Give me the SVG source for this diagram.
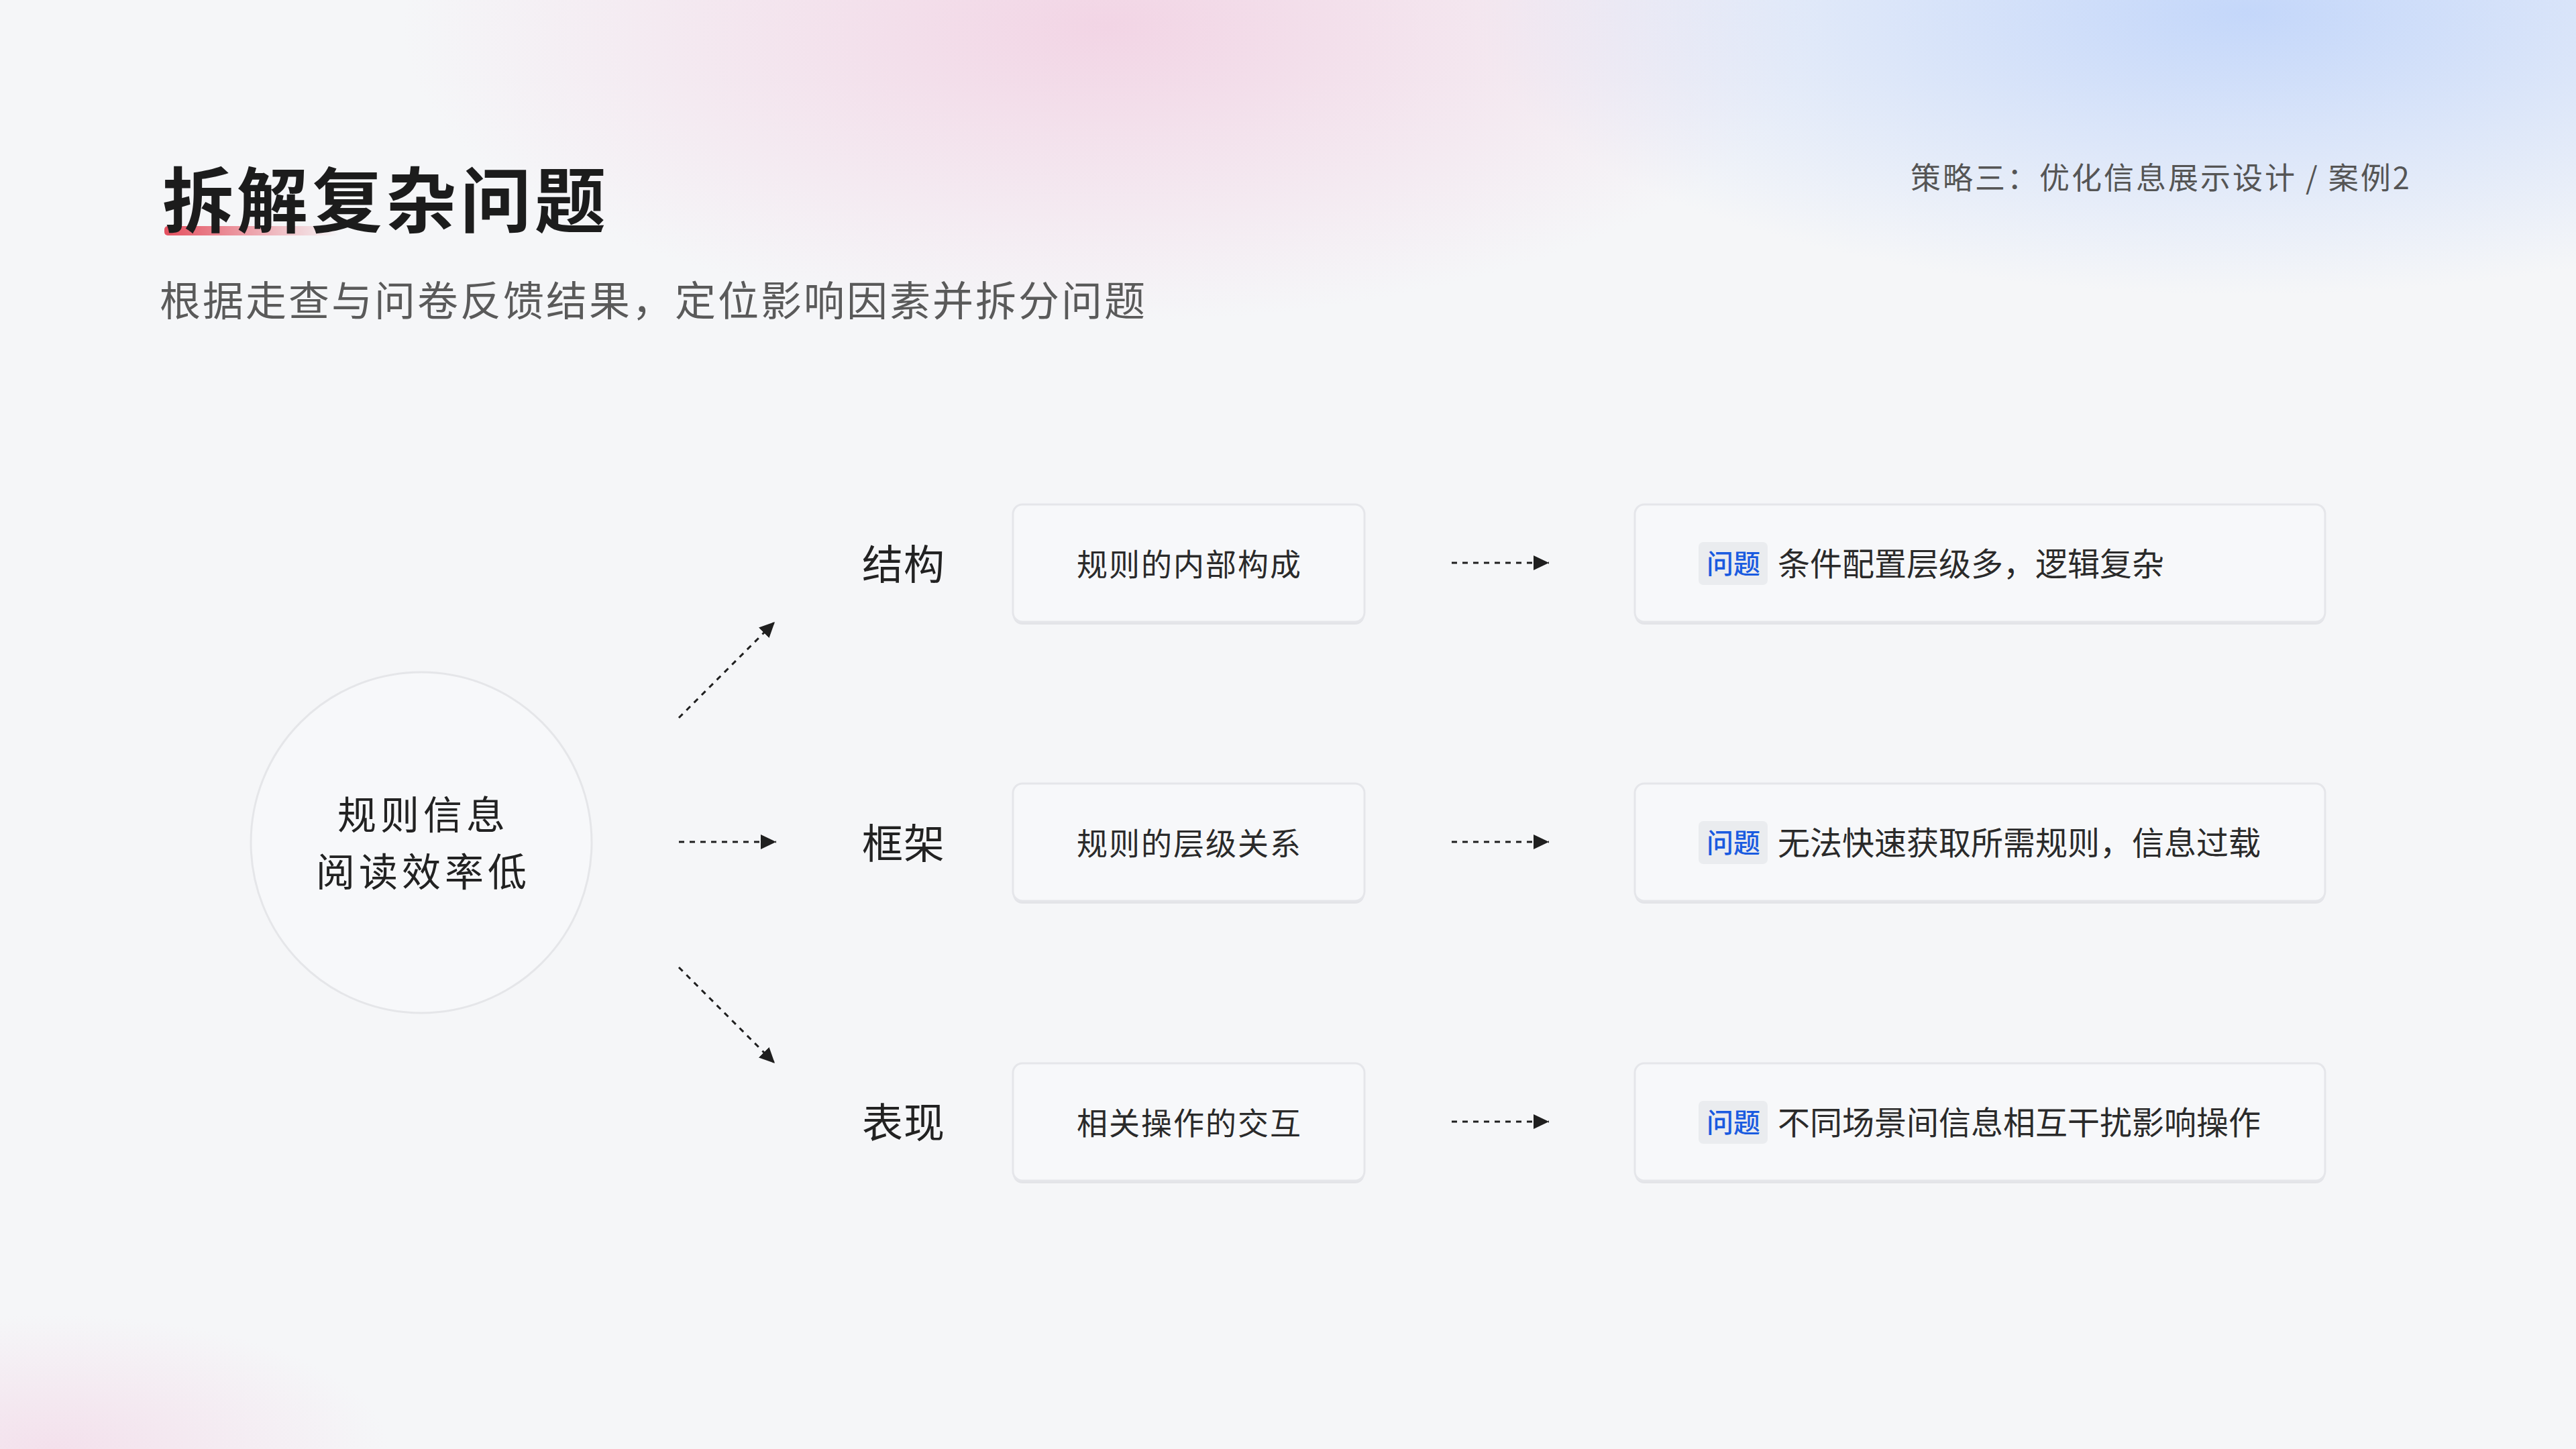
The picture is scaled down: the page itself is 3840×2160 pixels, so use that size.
<svg xmlns="http://www.w3.org/2000/svg" width="3840" height="2160" viewBox="0 0 3840 2160">
  <defs>
    <radialGradient id="gPink" cx="0.5" cy="0.5" r="0.5">
      <stop offset="0" stop-color="#f2d3e4" stop-opacity="0.95"/>
      <stop offset="1" stop-color="#f2d3e4" stop-opacity="0"/>
    </radialGradient>
    <radialGradient id="gBlue" cx="0.5" cy="0.5" r="0.5">
      <stop offset="0" stop-color="#c4d7fa" stop-opacity="1"/>
      <stop offset="1" stop-color="#c4d7fa" stop-opacity="0"/>
    </radialGradient>
    <radialGradient id="gPink2" cx="0.5" cy="0.5" r="0.5">
      <stop offset="0" stop-color="#f3dbe9" stop-opacity="0.8"/>
      <stop offset="1" stop-color="#f3dbe9" stop-opacity="0"/>
    </radialGradient>
    <linearGradient id="gUnder" x1="0" y1="0" x2="1" y2="0">
      <stop offset="0" stop-color="#e4505f"/>
      <stop offset="1" stop-color="#e4505f" stop-opacity="0"/>
    </linearGradient>
    <marker id="arrow" markerUnits="userSpaceOnUse" markerWidth="24" markerHeight="24" refX="23" refY="11" orient="auto">
      <path d="M0,0 L23,11 L0,22 Z" fill="#1f1f1f"/>
    </marker>
  </defs>
  <style>
    text { font-family: "Noto Sans CJK SC", "Noto Sans", sans-serif; }
    .title { font-size: 106px; font-weight: 700; fill: #1c1c1c; letter-spacing: 5px; }
    .sub { font-size: 61px; fill: #5a5a5a; letter-spacing: 3px; }
    .crumb { font-size: 45px; fill: #555555; letter-spacing: 3px; }
    .ctext { font-size: 58px; fill: #222222; letter-spacing: 6px; text-anchor: middle; }
    .label { font-size: 61px; fill: #222222; letter-spacing: 1px; }
    .btext { font-size: 46px; fill: #2a2a2a; letter-spacing: 2px; text-anchor: middle; }
    .dtext { font-size: 48px; fill: #2a2a2a; }
    .tag { font-size: 40px; fill: #1a5be0; text-anchor: middle; font-weight: 500; }
    .box { fill: #f7f8fa; stroke: #e5e6ea; stroke-width: 3; }
    .shadow { fill: #e3e4e8; }
    .tagbg { fill: #eaecef; }
    .conn { fill: none; stroke: #1f1f1f; stroke-width: 3; stroke-dasharray: 8 8; marker-end: url(#arrow); }
  </style>

  <!-- background -->
  <rect x="0" y="0" width="3840" height="2160" fill="#f5f6f8"/>
  <ellipse cx="1650" cy="40" rx="1050" ry="440" fill="url(#gPink)"/>
  <ellipse cx="3350" cy="20" rx="1150" ry="420" fill="url(#gBlue)"/>
  <ellipse cx="80" cy="2160" rx="500" ry="200" fill="url(#gPink2)"/>

  <!-- header -->
  <g id="header">
    <rect x="245" y="337" width="260" height="14" rx="5" fill="url(#gUnder)"/>
    <text class="title" x="242" y="338">拆解复杂问题</text>
    <text class="sub" x="238" y="471">根据走查与问卷反馈结果，定位影响因素并拆分问题</text>
    <text class="crumb" x="2848" y="282">策略三：优化信息展示设计 / 案例2</text>
  </g>

  <!-- central node -->
  <g id="node-center">
    <circle cx="628" cy="1256" r="254" fill="#f7f8fa" stroke="#e5e6e9" stroke-width="3"/>
    <text class="ctext" x="631" y="1236">规则信息</text>
    <text class="ctext" x="631" y="1321">阅读效率低</text>
  </g>

  <!-- row 1 -->
  <g id="label-structure">
    <text class="label" x="1285" y="864">结构</text>
  </g>
  <g id="node-structure">
    <rect class="shadow" x="1510" y="756" width="524" height="175" rx="14"/>
    <rect class="box" x="1510" y="752" width="524" height="175" rx="14"/>
    <text class="btext" x="1773" y="858">规则的内部构成</text>
  </g>
  <g id="node-problem-1">
    <rect class="shadow" x="2437" y="756" width="1029" height="175" rx="14"/>
    <rect class="box" x="2437" y="752" width="1029" height="175" rx="14"/>
    <rect class="tagbg" x="2532" y="808" width="103" height="64" rx="7"/>
    <text class="tag" x="2584" y="855">问题</text>
    <text class="dtext" x="2650" y="858">条件配置层级多，逻辑复杂</text>
  </g>

  <!-- row 2 -->
  <g id="label-framework">
    <text class="label" x="1285" y="1280">框架</text>
  </g>
  <g id="node-framework">
    <rect class="shadow" x="1510" y="1172" width="524" height="175" rx="14"/>
    <rect class="box" x="1510" y="1168" width="524" height="175" rx="14"/>
    <text class="btext" x="1773" y="1274">规则的层级关系</text>
  </g>
  <g id="node-problem-2">
    <rect class="shadow" x="2437" y="1172" width="1029" height="175" rx="14"/>
    <rect class="box" x="2437" y="1168" width="1029" height="175" rx="14"/>
    <rect class="tagbg" x="2532" y="1224" width="103" height="64" rx="7"/>
    <text class="tag" x="2584" y="1271">问题</text>
    <text class="dtext" x="2650" y="1274">无法快速获取所需规则，信息过载</text>
  </g>

  <!-- row 3 -->
  <g id="label-presentation">
    <text class="label" x="1285" y="1696">表现</text>
  </g>
  <g id="node-presentation">
    <rect class="shadow" x="1510" y="1589" width="524" height="175" rx="14"/>
    <rect class="box" x="1510" y="1585" width="524" height="175" rx="14"/>
    <text class="btext" x="1773" y="1691">相关操作的交互</text>
  </g>
  <g id="node-problem-3">
    <rect class="shadow" x="2437" y="1589" width="1029" height="175" rx="14"/>
    <rect class="box" x="2437" y="1585" width="1029" height="175" rx="14"/>
    <rect class="tagbg" x="2532" y="1641" width="103" height="64" rx="7"/>
    <text class="tag" x="2584" y="1688">问题</text>
    <text class="dtext" x="2650" y="1691">不同场景间信息相互干扰影响操作</text>
  </g>

  <!-- connectors -->
  <g id="connectors">
    <line class="conn" x1="1012" y1="1070" x2="1155" y2="927"/>
    <line class="conn" x1="1012" y1="1255" x2="1157" y2="1255"/>
    <line class="conn" x1="1012" y1="1442" x2="1155" y2="1585"/>
    <line class="conn" x1="2164" y1="839" x2="2309" y2="839"/>
    <line class="conn" x1="2164" y1="1255" x2="2309" y2="1255"/>
    <line class="conn" x1="2164" y1="1672" x2="2309" y2="1672"/>
  </g>
</svg>
